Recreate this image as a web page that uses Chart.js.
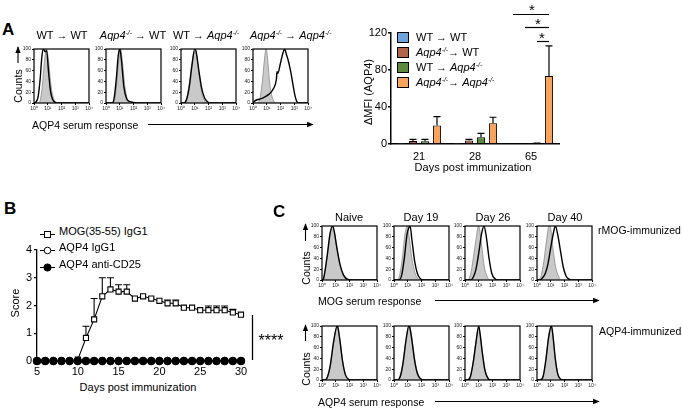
<!DOCTYPE html>
<html>
<head>
<meta charset="utf-8">
<script src="https://cdn.jsdelivr.net/npm/chart.js@4.4.1/dist/chart.umd.min.js"></script>
<style>
  html, body { margin: 0; padding: 0; background: #fff; }
  body { width: 682px; height: 409px; position: relative; overflow: hidden;
         font-family: Arial, "Liberation Sans", Helvetica, sans-serif; color: #000; }
  canvas { position: absolute; }
  .t { position: absolute; white-space: nowrap; line-height: 1; }
  sup { font-size: 0.62em; vertical-align: 0.5em; line-height: 0; }
  svg.overlay { position: absolute; left: 0; top: 0; }
</style>
</head>
<body>
<svg class="overlay" width="682" height="409">
  <defs>
    <marker id="head" viewBox="0 0 10 10" refX="9" refY="5" markerWidth="6" markerHeight="6" orient="auto">
      <path d="M0,1 L10,5 L0,9 z" fill="#000"/>
    </marker>
  </defs>
  <g stroke="#000" stroke-width="1.1" fill="none">
    <line x1="18" y1="63" x2="18" y2="47" marker-end="url(#head)"/>
    <line x1="148" y1="124.5" x2="313" y2="124.5" marker-end="url(#head)"/>
    <line x1="305.5" y1="241" x2="305.5" y2="224" marker-end="url(#head)"/>
    <line x1="305.5" y1="341" x2="305.5" y2="325" marker-end="url(#head)"/>
    <line x1="435" y1="300.5" x2="599" y2="300.5" marker-end="url(#head)"/>
    <line x1="435" y1="401.5" x2="599" y2="401.5" marker-end="url(#head)"/>
    <line x1="252.5" y1="315" x2="252.5" y2="360" stroke-width="1.3"/>
  </g>
</svg>
<script>
const FONT = 'Arial, "Liberation Sans", Helvetica, sans-serif';
Chart.defaults.font.family = FONT;
Chart.defaults.color = '#000';

// ---- panel A, bar chart (ΔMFI AQP4) ----
const dayGroups = ['21', '28', '65'];
const wtToWt = [0.4, 0.4, 0];
const wtToWtErr = [0, 0, 0];
const koToWt = [3.2, 3.8, 0];
const koToWtErr = [1.8, 1.2, 0];
const wtToKo = [3.0, 7.2, 0.5];
const wtToKoErr = [2.0, 4.2, 0.5];
const koToKo = [20, 22.4, 73.5];
const koToKoErr = [9.5, 6.5, 32.5];
const barColors = ['#6fa3dc', '#b0644c', '#5b8a3c', '#f8a45d'];

// ---- panel B, clinical score ----
const days = [5, 6, 7, 8, 9, 10, 11, 12, 13, 14, 15, 16, 17, 18, 19, 20, 21, 22, 23, 24, 25, 26, 27, 28, 29, 30];
const mogScore = [0, 0, 0, 0, 0, 0.05, 0.83, 1.5, 2.33, 2.58, 2.5, 2.5, 2.25, 2.33, 2.25, 2.17, 2.08, 2.08, 1.92, 1.92, 1.83, 1.83, 1.83, 1.83, 1.75, 1.67];
const mogSem = [0, 0, 0, 0, 0, 0, 0.42, 0.75, 0.67, 0.42, 0.25, 0.25, 0, 0, 0, 0, 0.12, 0.12, 0, 0, 0, 0.15, 0.15, 0.15, 0.11, 0];
const aqpIgg1Score = [0, 0, 0, 0, 0, 0, 0, 0, 0, 0, 0, 0, 0, 0, 0, 0, 0, 0, 0, 0, 0, 0, 0, 0, 0, 0];
const aqpCd25Score = [0, 0, 0, 0, 0, 0, 0, 0, 0, 0, 0, 0, 0, 0, 0, 0, 0, 0, 0, 0, 0, 0, 0, 0, 0, 0];

// ---- histograms: [log10 intensity, % of max] ----
const logTicks = ['10⁰', '10¹', '10²', '10³', '10⁴'];

const aWtWtIso = [[0, 0], [0.3, 0], [0.45, 5], [0.6, 30], [0.75, 75], [0.9, 100], [1.05, 80], [1.2, 40], [1.35, 15], [1.5, 4], [1.7, 0], [4, 0]];
const aWtWtSerum = [[0, 0], [0.15, 2], [0.3, 12], [0.45, 45], [0.58, 88], [0.68, 100], [0.8, 95], [0.92, 97], [1.05, 60], [1.2, 22], [1.35, 7], [1.55, 1], [1.7, 0], [4, 0]];
const aKoWtIso = [[0, 0], [0.5, 0], [0.65, 8], [0.8, 40], [0.95, 85], [1.07, 100], [1.2, 75], [1.35, 35], [1.5, 12], [1.7, 3], [1.9, 0], [4, 0]];
const aKoWtSerum = [[0, 0], [0.45, 0], [0.6, 10], [0.75, 45], [0.9, 90], [1.0, 100], [1.12, 80], [1.3, 30], [1.5, 8], [1.7, 3], [2.0, 1], [2.3, 0], [4, 0]];
const aWtKoIso = [[0, 0], [0.2, 0], [0.4, 8], [0.6, 35], [0.8, 75], [1.0, 95], [1.1, 92], [1.3, 55], [1.5, 20], [1.7, 5], [1.9, 0], [4, 0]];
const aWtKoSerum = [[0, 0], [0.2, 0], [0.4, 6], [0.6, 30], [0.8, 70], [1.0, 100], [1.1, 95], [1.3, 60], [1.5, 28], [1.7, 10], [1.9, 3], [2.1, 0], [4, 0]];
const aKoKoIso = [[0, 0], [0.3, 0], [0.5, 8], [0.7, 45], [0.85, 85], [0.95, 100], [1.05, 85], [1.2, 40], [1.35, 15], [1.5, 4], [1.7, 0], [4, 0]];
const aKoKoSerum = [[0, 0], [0.1, 3], [0.3, 6], [0.6, 8], [0.9, 12], [1.1, 15], [1.45, 25], [1.7, 44], [1.75, 58], [1.8, 55], [2.0, 74], [2.15, 90], [2.3, 100], [2.45, 88], [2.55, 80], [2.75, 57], [2.9, 35], [3.05, 14], [3.2, 2], [3.35, 0], [4, 0]];

const mogNaiveIso = [[0, 0], [0.1, 3], [0.35, 38], [0.6, 85], [0.75, 100], [0.9, 88], [1.05, 66], [1.3, 28], [1.55, 9], [1.8, 2], [2.1, 0], [4, 0]];
const mogNaiveSerum = [[0, 0], [0.1, 2], [0.35, 40], [0.6, 88], [0.78, 100], [0.92, 86], [1.05, 64], [1.3, 30], [1.55, 10], [1.8, 2], [2.1, 0], [4, 0]];
const mogD19Iso = [[0, 0], [0.2, 0], [0.4, 8], [0.6, 40], [0.8, 85], [0.97, 100], [1.1, 80], [1.3, 40], [1.5, 15], [1.7, 4], [1.9, 0], [4, 0]];
const mogD19Serum = [[0, 0], [0.35, 0], [0.55, 8], [0.75, 40], [0.95, 85], [1.1, 98], [1.17, 100], [1.3, 75], [1.5, 35], [1.7, 12], [1.9, 3], [2.1, 0], [4, 0]];
const mogD26Iso = [[0, 0], [0.2, 0], [0.4, 10], [0.6, 40], [0.8, 75], [0.98, 100], [1.1, 88], [1.25, 55], [1.4, 25], [1.6, 7], [1.8, 0], [4, 0]];
const mogD26Serum = [[0, 0], [0.4, 0], [0.6, 5], [0.8, 20], [1.0, 50], [1.2, 85], [1.38, 100], [1.55, 80], [1.75, 40], [1.95, 12], [2.2, 2], [2.4, 0], [4, 0]];
const mogD40Iso = [[0, 0], [0.1, 0], [0.3, 8], [0.5, 35], [0.7, 75], [0.88, 100], [1.0, 95], [1.15, 60], [1.35, 25], [1.55, 8], [1.75, 0], [4, 0]];
const mogD40Serum = [[0, 0], [0.2, 0], [0.4, 4], [0.6, 12], [0.8, 30], [1.0, 60], [1.2, 88], [1.34, 100], [1.5, 85], [1.7, 55], [1.9, 25], [2.1, 8], [2.3, 2], [2.5, 0], [4, 0]];

const aqpNaiveIso = [[0, 0], [0.2, 0], [0.4, 5], [0.6, 25], [0.85, 70], [1.05, 97], [1.13, 100], [1.3, 75], [1.5, 35], [1.7, 10], [1.9, 2], [2.1, 0], [4, 0]];
const aqpNaiveSerum = [[0, 0], [0.2, 0], [0.4, 6], [0.6, 27], [0.85, 72], [1.1, 100], [1.15, 98], [1.3, 74], [1.5, 34], [1.7, 10], [1.9, 2], [2.1, 0], [4, 0]];
const aqpD19Iso = [[0, 0], [0.2, 0], [0.4, 5], [0.6, 25], [0.85, 70], [1.05, 98], [1.12, 100], [1.3, 78], [1.5, 40], [1.7, 15], [1.9, 4], [2.2, 0], [4, 0]];
const aqpD19Serum = [[0, 0], [0.25, 0], [0.45, 6], [0.65, 30], [0.88, 75], [1.08, 100], [1.15, 97], [1.3, 74], [1.5, 36], [1.7, 12], [1.9, 3], [2.2, 0], [4, 0]];
const aqpD26Iso = [[0, 0], [0.2, 0], [0.4, 8], [0.6, 35], [0.8, 72], [0.98, 95], [1.08, 88], [1.25, 55], [1.45, 20], [1.65, 5], [1.85, 0], [4, 0]];
const aqpD26Serum = [[0, 0], [0.2, 0], [0.4, 7], [0.6, 33], [0.8, 70], [1.0, 100], [1.1, 85], [1.25, 52], [1.45, 18], [1.65, 4], [1.85, 0], [4, 0]];
const aqpD40Iso = [[0, 0], [0.25, 0], [0.45, 8], [0.65, 40], [0.85, 82], [1.03, 100], [1.15, 82], [1.3, 45], [1.5, 12], [1.7, 2], [1.85, 0], [4, 0]];
const aqpD40Serum = [[0, 0], [0.25, 0], [0.45, 7], [0.65, 38], [0.85, 80], [1.05, 100], [1.17, 80], [1.32, 42], [1.5, 12], [1.7, 2], [1.85, 0], [4, 0]];

function addCanvas(left, top, width, height) {
    const c = document.createElement('canvas');
    c.width = width;
    c.height = height;
    c.style.left = left + 'px';
    c.style.top = top + 'px';
    c.style.width = width + 'px';
    c.style.height = height + 'px';
    document.body.appendChild(c);
    return c;
}

function text(html, x, y, opts = {}) {
    const d = document.createElement('div');
    d.className = 't';
    d.innerHTML = html;
    d.style.left = x + 'px';
    d.style.top = y + 'px';
    d.style.fontSize = (opts.size || 11) + 'px';
    if (opts.bold) d.style.fontWeight = 'bold';
    const anchor = opts.anchor || 'center';
    if (opts.rotate) d.style.transform = 'translate(-50%,-50%) rotate(-90deg)';
    else if (anchor === 'left') d.style.transform = 'translate(0,-50%)';
    else d.style.transform = 'translate(-50%,-50%)';
    document.body.appendChild(d);
    return d;
}

const ko = '<i>Aqp4<sup>-/-</sup></i>';

// ---- histograms ----
const frame = {
    id: 'frame',
    afterDraw(chart) {
        const { ctx, chartArea: a } = chart;
        ctx.save();
        ctx.strokeStyle = '#000';
        ctx.lineWidth = 1.2;
        ctx.strokeRect(a.left, a.top, a.right - a.left, a.bottom - a.top);
        ctx.restore();
    }
};

const toXY = (pts) => pts.map(([x, y]) => ({ x, y }));

function drawHistogram(left, top, iso, serum) {
    const size = 55;
    const canvas = addCanvas(left - 15, top - 3, size + 20, size + 14);
    new Chart(canvas, {
        type: 'line',
        data: {
            datasets: [
                {
                    data: toXY(serum), borderColor: '#000', borderWidth: 1.4,
                    pointRadius: 0, cubicInterpolationMode: 'monotone', fill: false
                },
                {
                    data: toXY(iso), borderColor: '#8a8a8a', backgroundColor: '#c9c9c9',
                    borderWidth: 0.8, pointRadius: 0, cubicInterpolationMode: 'monotone', fill: 'origin'
                }
            ]
        },
        options: {
            responsive: false,
            animation: false,
            devicePixelRatio: 1,
            layout: { padding: { top: 3, right: 5, left: 0, bottom: 0 } },
            plugins: { legend: { display: false }, tooltip: { enabled: false } },
            scales: {
                x: {
                    type: 'linear', min: 0, max: 4,
                    afterFit: (s) => { s.height = 11; },
                    ticks: { stepSize: 1, autoSkip: false, maxRotation: 0, padding: 1, font: { size: 5 }, color: '#222',
                             callback: (v) => logTicks[v] },
                    grid: { drawOnChartArea: false, tickLength: 2, color: '#000' },
                    border: { display: false }
                },
                y: {
                    min: 0, max: 100,
                    afterFit: (s) => { s.width = 15; },
                    ticks: { stepSize: 20, padding: 1, font: { size: 5 }, color: '#222' },
                    grid: { drawOnChartArea: false, tickLength: 2, color: '#000' },
                    border: { display: false }
                }
            }
        },
        plugins: [frame]
    });
}

drawHistogram(34, 48, aWtWtIso, aWtWtSerum);
drawHistogram(106, 48, aKoWtIso, aKoWtSerum);
drawHistogram(181, 48, aWtKoIso, aWtKoSerum);
drawHistogram(253, 48, aKoKoIso, aKoKoSerum);

drawHistogram(322, 225, mogNaiveIso, mogNaiveSerum);
drawHistogram(394, 225, mogD19Iso, mogD19Serum);
drawHistogram(465, 225, mogD26Iso, mogD26Serum);
drawHistogram(537, 225, mogD40Iso, mogD40Serum);

drawHistogram(322, 325, aqpNaiveIso, aqpNaiveSerum);
drawHistogram(394, 325, aqpD19Iso, aqpD19Serum);
drawHistogram(465, 325, aqpD26Iso, aqpD26Serum);
drawHistogram(537, 325, aqpD40Iso, aqpD40Serum);

// ---- bar chart ----
const sigLevels = [141, 127, 111];

const barExtras = {
    id: 'barExtras',
    afterDatasetsDraw(chart) {
        const { ctx, scales: { y } } = chart;
        ctx.save();
        ctx.strokeStyle = '#000';
        ctx.lineWidth = 1.2;
        chart.data.datasets.forEach((ds, i) => {
            const meta = chart.getDatasetMeta(i);
            meta.data.forEach((bar, j) => {
                const err = ds.errors[j];
                if (!err) return;
                const top = y.getPixelForValue(ds.data[j] + err);
                ctx.beginPath();
                ctx.moveTo(bar.x, bar.y);
                ctx.lineTo(bar.x, top);
                ctx.moveTo(bar.x - 3.5, top);
                ctx.lineTo(bar.x + 3.5, top);
                ctx.stroke();
            });
        });
        // comparison brackets over day 65
        const last = dayGroups.length - 1;
        const endX = chart.getDatasetMeta(3).data[last].x;
        sigLevels.forEach((level, k) => {
            const startX = chart.getDatasetMeta(k).data[last].x;
            const py = Math.round(y.getPixelForValue(level)) + 0.5;
            ctx.beginPath();
            ctx.moveTo(startX, py);
            ctx.lineTo(endX, py);
            ctx.stroke();
        });
        ctx.restore();
    }
};

const barCanvas = addCanvas(330, 0, 240, 165);
new Chart(barCanvas, {
    type: 'bar',
    data: {
        labels: dayGroups,
        datasets: [
            { label: 'WT → WT', data: wtToWt, errors: wtToWtErr, backgroundColor: barColors[0] },
            { label: 'Aqp4-/- → WT', data: koToWt, errors: koToWtErr, backgroundColor: barColors[1] },
            { label: 'WT → Aqp4-/-', data: wtToKo, errors: wtToKoErr, backgroundColor: barColors[2] },
            { label: 'Aqp4-/- → Aqp4-/-', data: koToKo, errors: koToKoErr, backgroundColor: barColors[3] }
        ]
    },
    options: {
        responsive: false,
        animation: false,
        devicePixelRatio: 1,
        layout: { padding: { top: 33, right: 11, left: 0, bottom: 0 } },
        datasets: { bar: { categoryPercentage: 0.857, barPercentage: 0.68, borderColor: '#000', borderWidth: 1 } },
        plugins: { legend: { display: false }, tooltip: { enabled: false } },
        scales: {
            x: {
                afterFit: (s) => { s.height = 21; },
                grid: { drawOnChartArea: false, drawTicks: false, color: '#000' },
                border: { color: '#000', width: 1.5 },
                ticks: { font: { size: 11 }, color: '#000', padding: 6 }
            },
            y: {
                min: 0, max: 120,
                afterFit: (s) => { s.width = 61; },
                ticks: { stepSize: 40, font: { size: 11 }, color: '#000', padding: 1 },
                grid: { drawOnChartArea: false, tickLength: 3, color: '#000', lineWidth: 1.5 },
                border: { color: '#000', width: 1.5 }
            }
        }
    },
    plugins: [barExtras]
});

// ---- score chart ----
const scoreErrors = {
    id: 'scoreErrors',
    beforeDatasetsDraw(chart) {
        const { ctx, scales: { y } } = chart;
        const meta = chart.getDatasetMeta(1);
        ctx.save();
        ctx.strokeStyle = '#000';
        ctx.lineWidth = 1.1;
        meta.data.forEach((pt, j) => {
            if (!mogSem[j]) return;
            const top = y.getPixelForValue(mogScore[j] + mogSem[j]);
            ctx.beginPath();
            ctx.moveTo(pt.x, pt.y);
            ctx.lineTo(pt.x, top);
            ctx.moveTo(pt.x - 3.5, top);
            ctx.lineTo(pt.x + 3.5, top);
            ctx.stroke();
        });
        ctx.restore();
    }
};

const pairs = (ys) => days.map((d, i) => ({ x: d, y: ys[i] }));

const scoreCanvas = addCanvas(0, 240, 262, 138);
new Chart(scoreCanvas, {
    type: 'line',
    data: {
        datasets: [
            { label: 'AQP4 anti-CD25', data: pairs(aqpCd25Score), borderColor: '#000', borderWidth: 1,
              pointStyle: 'circle', pointRadius: 3.8, pointBackgroundColor: '#000', pointBorderColor: '#000', clip: false },
            { label: 'MOG(35-55) IgG1', data: pairs(mogScore), borderColor: '#000', borderWidth: 1.1,
              pointStyle: 'rect', pointRadius: 3.6, pointBackgroundColor: '#fff', pointBorderColor: '#000', pointBorderWidth: 1.1, clip: false },
            { label: 'AQP4 IgG1', data: pairs(aqpIgg1Score), borderColor: '#000', borderWidth: 1,
              pointStyle: 'circle', pointRadius: 3.6, pointBackgroundColor: '#fff', pointBorderColor: '#000', clip: false }
        ]
    },
    options: {
        responsive: false,
        animation: false,
        devicePixelRatio: 1,
        layout: { padding: { top: 10, right: 21, left: 0, bottom: 0 } },
        plugins: { legend: { display: false }, tooltip: { enabled: false } },
        scales: {
            x: {
                type: 'linear', min: 5, max: 30,
                afterFit: (s) => { s.height = 17; },
                ticks: { stepSize: 5, font: { size: 11 }, color: '#000', padding: 1 },
                grid: { drawOnChartArea: false, tickLength: 3, color: '#000', lineWidth: 1.3 },
                border: { color: '#000', width: 1.3 }
            },
            y: {
                min: 0, max: 4,
                afterFit: (s) => { s.width = 37; },
                ticks: { stepSize: 1, font: { size: 11 }, color: '#000', padding: 2 },
                grid: { drawOnChartArea: false, tickLength: 3, color: '#000', lineWidth: 1.3 },
                border: { color: '#000', width: 1.3 }
            }
        }
    },
    plugins: [scoreErrors]
});

// ---- text: panel A ----
text('A', 2, 29, { size: 17, bold: true, anchor: 'left' });
text('WT → WT', 62, 35);
text(ko + ' → WT', 133, 35);
text('WT → ' + ko, 206, 35);
text(ko + ' → ' + ko, 250, 35, { anchor: 'left' });
text('Counts', 18, 86, { size: 10.5, rotate: true });
text('AQP4 serum response', 32, 125, { size: 10.5, anchor: 'left' });

text('ΔMFI (AQP4)', 368, 92, { rotate: true });
text('Days post immunization', 473, 167);
const legendRows = ['WT → WT', ko + '→ WT', 'WT → ' + ko, ko + '→ ' + ko];
const legendY = [37, 52, 67, 82];
legendRows.forEach((label, i) => {
    const sw = document.createElement('div');
    sw.style.cssText = `position:absolute;left:397px;top:${legendY[i] - 5}px;width:10px;height:9px;border:1px solid #000;background:${barColors[i]}`;
    document.body.appendChild(sw);
    text(label, 416, legendY[i], { anchor: 'left' });
});
text('*', 532, 9, { size: 15 });
text('*', 538, 23, { size: 15 });
text('*', 542, 37, { size: 15 });

// ---- text: panel B ----
text('B', 4, 208, { size: 17, bold: true, anchor: 'left' });
const scoreLegend = [
    ['MOG(35-55) IgG1', '<rect x="4.5" y="2.5" width="6" height="6" fill="#fff" stroke="#000"/>'],
    ['AQP4 IgG1', '<circle cx="7.5" cy="5.5" r="3.3" fill="#fff" stroke="#000"/>'],
    ['AQP4 anti-CD25', '<circle cx="7.5" cy="5.5" r="3.6" fill="#000" stroke="#000"/>']
];
const scoreLegendY = [231, 247, 264];
scoreLegend.forEach(([label, mark], i) => {
    const holder = document.createElement('div');
    holder.style.cssText = `position:absolute;left:40px;top:${scoreLegendY[i] - 5.5}px;width:15px;height:11px`;
    holder.innerHTML = `<svg width="15" height="11"><line x1="0" y1="5.5" x2="15" y2="5.5" stroke="#000" stroke-width="1"/>${mark}</svg>`;
    document.body.appendChild(holder);
    text(label, 59, scoreLegendY[i], { anchor: 'left' });
});
text('Score', 15, 303, { rotate: true });
text('Days post immunization', 138, 387);
text('****', 271, 341, { size: 16 });

// ---- text: panel C ----
text('C', 273, 211, { size: 17, bold: true, anchor: 'left' });
text('Naive', 349, 217);
text('Day 19', 421, 217);
text('Day 26', 493, 217);
text('Day 40', 565, 217);
text('rMOG-immunized', 598, 230, { size: 10.5, anchor: 'left' });
text('AQP4-immunized', 599, 331, { size: 10.5, anchor: 'left' });
text('Counts', 306, 268, { size: 10.5, rotate: true });
text('Counts', 306, 369, { size: 10.5, rotate: true });
text('MOG serum response', 318, 301, { size: 10.5, anchor: 'left' });
text('AQP4 serum response', 318, 402, { size: 10.5, anchor: 'left' });
</script>
</body>
</html>
